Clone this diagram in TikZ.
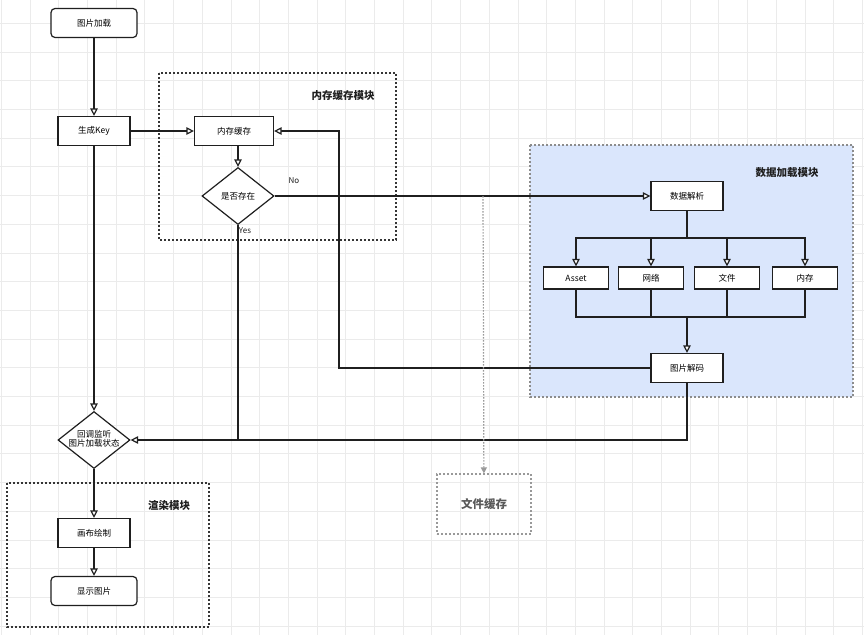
\documentclass[tikz,border=0pt]{standalone}
\usepackage{fontspec}
\setmainfont{Noto Sans CJK SC}
\usetikzlibrary{arrows.meta,shapes.geometric}

\definecolor{ln}{HTML}{1F1F1F}
\definecolor{gridc}{HTML}{EBEBEB}
\definecolor{blueb}{HTML}{DAE6FC}

\begin{document}
\begin{tikzpicture}[x=1pt,y=-1pt,
  box/.style={draw=ln, fill=white, line width=1.2pt, minimum width=72pt,
    minimum height=29pt, inner sep=0pt, font=\fontsize{8.5}{10}\selectfont},
  rbox/.style={box, rounded corners=4pt, minimum width=86pt},
  sbox/.style={box, minimum width=65pt, minimum height=22pt},
  dia/.style={box, diamond, minimum width=72pt, minimum height=57pt},
  arr/.style={draw=ln, line width=1.2pt, -{Triangle[length=7.5pt,width=7.5pt,fill=white]}},
  con/.style={draw=ln, line width=1.2pt},
  module/.style={draw=ln!90, line width=1.2pt, dash pattern=on 2pt off 2pt},
  title/.style={font=\fontsize{10.5}{12}\selectfont\bfseries, text=ln},
  small/.style={font=\fontsize{8}{9}\selectfont, text=ln}]

\useasboundingbox (0,0) rectangle (864,635);
\fill[white] (0,0) rectangle (864,635);
\foreach \i in {0,...,30}
  \draw[gridc, line width=0.7pt] ({1.3+28.7*\i},0) -- ++(0,635);
\foreach \i in {0,...,22}
  \draw[gridc, line width=0.7pt] (0,{23.3+28.7*(\i-1)}) -- ++(864,0);

% modules
\draw[module] (159,73) rectangle (396,240);
\node[title] at (343,95) {内存缓存模块};
\draw[module, draw=black!45, fill=blueb] (530,145) rectangle (853,397);
\node[title] at (787,173) {数据加载模块};
\draw[module] (7,483) rectangle (209,627);
\node[title] at (169,505) {渲染模块};

% nodes
\node[rbox] (load) at (94,23) {图片加载};
\node[box] (key) at (94,131) {生成Key};
\node[box, minimum width=79pt] (mem) at (234,131) {内存缓存};
\node[dia] (chk) at (238,196) {\makebox[0pt]{是否存在}};
\node[dia] (cb) at (94,440)
  {\makebox[0pt]{\begin{tabular}{@{}c@{}}回调监听\\[-2pt]图片加载状态\end{tabular}}};
\node[box] (canvas) at (94,533) {画布绘制};
\node[rbox] (show) at (94,591) {显示图片};

\node[box] (parse) at (687,196) {数据解析};
\node[sbox] (asset) at (576,278) {Asset};
\node[sbox] (net) at (651,278) {网络};
\node[sbox] (file) at (727,278) {文件};
\node[sbox] (ram) at (805,278) {内存};
\node[box] (dec) at (687,368) {图片解码};

\node[draw=black!40, line width=1.2pt, dash pattern=on 2pt off 2pt,
  minimum width=94pt, minimum height=60pt,
  font=\fontsize{11.5}{13}\selectfont\bfseries, text=black!65] (fc) at (484,504) {文件缓存};

\coordinate (up) at (339,131);
\coordinate (bus) at (687,238);
\coordinate (join) at (687,317);
\coordinate (tap) at (483,196);

% connectors
\draw[arr] (load) -- (key);
\draw[arr] (key) -- (mem);
\draw[arr] (mem.south -| chk) -- (chk);
\draw[arr] (chk) -- (parse);
\node[small] at (294,181) {No};
\draw[con] (chk.south) -- (chk.south |- cb.east);
\node[small] at (245,231) {Yes};
\draw[arr] (dec) |- (cb);
\draw[arr] (key) -- (cb);
\draw[arr] (cb) -- (canvas);
\draw[arr] (canvas) -- (show);
\draw[arr] (dec.west) -| (up) -- (mem.east);

\draw[con] (parse) -- (bus);
\foreach \n in {asset,net,file,ram}{
  \draw[arr] (bus) -| (\n);
  \draw[con] (\n) |- (join);
}
\draw[arr] (join) -- (dec);

\draw[black!40, line width=1.2pt, dash pattern=on 1.5pt off 1.5pt,
  -{Triangle[length=6pt,width=6pt]}] (tap) -- (fc);
\end{tikzpicture}
\end{document}
